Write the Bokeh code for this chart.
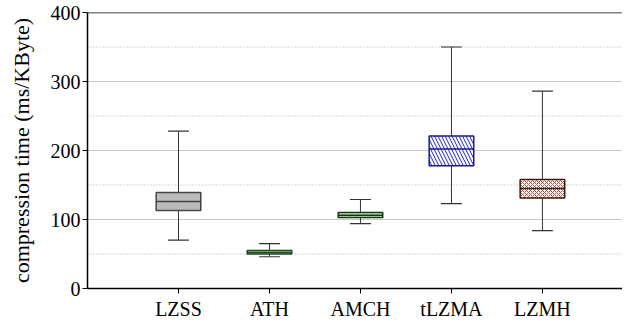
from bokeh.plotting import figure
from bokeh.models import Range1d, FixedTicker, Span, ColumnDataSource
from bokeh.embed import file_html
from bokeh.resources import INLINE

categories = ["LZSS", "ATH", "AMCH", "tLZMA", "LZMH"]
whisker_low = [70, 46, 94, 123, 84]
q1 = [113, 50, 103, 178, 131]
median = [126, 52, 106, 202, 145]
q3 = [139, 55, 110, 221, 158]
whisker_high = [228, 65, 129, 350, 286]

fill_colors = ["#bbbbbb", "#c8dcc0", "#c8e8c0", "#ffffff", "#ffffff"]
line_colors = ["#444444", "#1c4a1c", "#103810", "#1a1a8c", "#3a1a10"]
hatch_patterns = [" ", "horizontal_dash", "right_diagonal_dash", "left_diagonal_line", "diagonal_cross"]
hatch_colors = ["#bbbbbb", "#2e7d2e", "#ffffff", "#2020d0", "#e8401c"]
hatch_scales = [7, 7, 7, 7, 4]

xs = list(range(1, len(categories) + 1))

src = ColumnDataSource(dict(
    x=xs, low=whisker_low, q1=q1, med=median, q3=q3, high=whisker_high,
    fill=fill_colors, line=line_colors, hatch=hatch_patterns, hcol=hatch_colors,
    hscale=hatch_scales,
    left=[x - 0.245 for x in xs], right=[x + 0.245 for x in xs],
    cl=[x - 0.115 for x in xs], cr=[x + 0.115 for x in xs],
))

p = figure(width=622, height=322, output_backend="svg", toolbar_location=None,
           x_range=Range1d(0, 5.88), y_range=Range1d(0, 400),
           min_border_left=87, min_border_top=12, min_border_bottom=34, min_border_right=0)

FONT = "Liberation Serif"

# grid: solid at 100s, dotted at 50s
p.xgrid.grid_line_color = None
p.ygrid.ticker = FixedTicker(ticks=[100, 200, 300])
p.ygrid.grid_line_color = "#c8c8c8"
p.ygrid.grid_line_width = 1.2
p.ygrid.minor_grid_line_color = None
for v in [50, 150, 250, 350]:
    p.add_layout(Span(location=v, dimension="width", line_color="#aaaaaa",
                      line_dash="1 2", line_width=1, level="underlay"))

p.outline_line_color = None
p.add_layout(Span(location=400, dimension="width", line_color="black", line_width=1.5))

# whiskers
p.segment(x0="x", y0="q3", x1="x", y1="high", source=src, line_color="#333333", line_width=1)
p.segment(x0="x", y0="low", x1="x", y1="q1", source=src, line_color="#333333", line_width=1)
p.segment(x0="cl", y0="high", x1="cr", y1="high", source=src, line_color="#333333", line_width=1.2)
p.segment(x0="cl", y0="low", x1="cr", y1="low", source=src, line_color="#333333", line_width=1.2)

# boxes
p.quad(left="left", right="right", bottom="q1", top="q3", source=src,
       fill_color="fill", line_color="line", line_width=1.5,
       hatch_pattern="hatch", hatch_color="hcol", hatch_scale="hscale", hatch_weight=1)
p.segment(x0="left", y0="med", x1="right", y1="med", source=src, line_color="line", line_width=1.5)

# axes
p.xaxis.ticker = FixedTicker(ticks=xs)
p.xaxis.major_label_overrides = {x: c for x, c in zip(xs, categories)}
p.yaxis.ticker = FixedTicker(ticks=[0, 100, 200, 300, 400])
for ax in (p.xaxis[0], p.yaxis[0]):
    ax.axis_line_color = "black"
    ax.axis_line_width = 1.5
    ax.major_tick_line_color = "black"
    ax.major_tick_line_width = 1
    ax.major_tick_out = 5
    ax.major_tick_in = 0
    ax.minor_tick_line_color = None
    ax.major_label_text_font = FONT
    ax.major_label_text_font_size = "20px"
    ax.major_label_text_color = "black"
p.xaxis.major_label_standoff = 4
p.yaxis.major_label_standoff = 2
p.yaxis.axis_label = "compression time (ms/KByte)"
p.yaxis.axis_label_text_font = FONT
p.yaxis.axis_label_text_font_size = "22px"
p.yaxis.axis_label_text_font_style = "normal"
p.yaxis.axis_label_text_color = "black"
p.yaxis.axis_label_standoff = 14

open("out.html", "w").write(file_html(p, INLINE))
